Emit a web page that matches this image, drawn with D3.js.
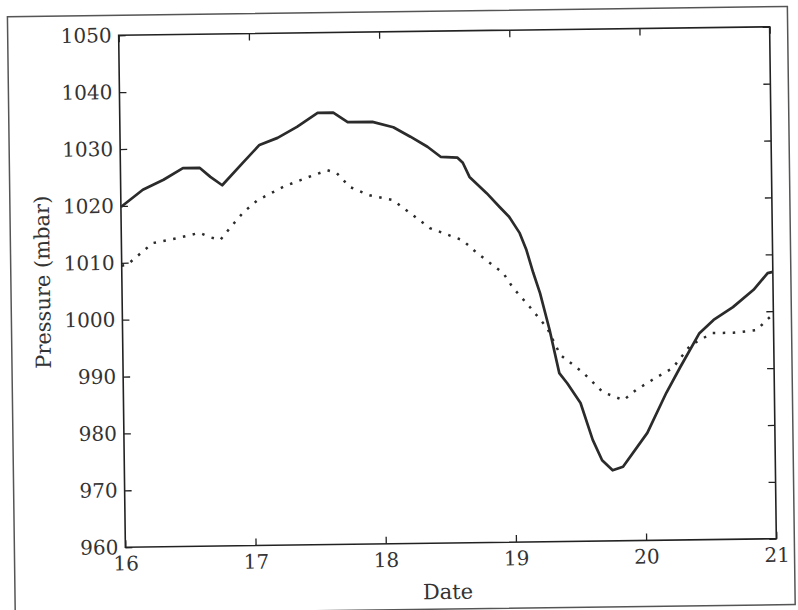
<!DOCTYPE html>
<html>
<head>
<meta charset="utf-8">
<script src="https://cdn.jsdelivr.net/npm/d3@7"></script>
<style>
  html, body { margin: 0; padding: 0; background: #fff; }
  svg { display: block; }
</style>
</head>
<body>
<svg id="chart" width="798" height="610"></svg>
<script>
// ---- data ----
const solidDate = [16.00, 16.17, 16.33, 16.48, 16.61, 16.69, 16.78, 16.94, 17.07, 17.21, 17.36, 17.52, 17.64, 17.75, 17.94, 18.10, 18.23, 18.36, 18.46, 18.59, 18.63, 18.68, 18.81, 18.91, 18.98, 19.06, 19.11, 19.16, 19.21, 19.28, 19.35, 19.41, 19.51, 19.60, 19.67, 19.75, 19.83, 20.02, 20.17, 20.28, 20.43, 20.54, 20.69, 20.85, 20.96, 21.00];
const solidPressure = [1019.8, 1022.8, 1024.5, 1026.5, 1026.5, 1024.9, 1023.4, 1027.3, 1030.4, 1031.6, 1033.5, 1035.9, 1035.9, 1034.2, 1034.2, 1033.2, 1031.5, 1029.7, 1027.9, 1027.7, 1026.8, 1024.3, 1021.4, 1018.9, 1017.2, 1014.3, 1011.3, 1007.3, 1003.7, 997.2, 989.6, 987.8, 984.3, 977.8, 974.2, 972.4, 973.0, 978.9, 985.9, 990.4, 996.3, 998.6, 1000.8, 1003.8, 1006.7, 1006.9];

const dottedDate = [16.00, 16.04, 16.24, 16.43, 16.60, 16.68, 16.76, 16.84, 16.94, 17.05, 17.25, 17.45, 17.59, 17.66, 17.76, 17.91, 18.09, 18.22, 18.37, 18.55, 18.62, 18.73, 18.93, 19.00, 19.13, 19.26, 19.36, 19.53, 19.68, 19.84, 19.94, 20.10, 20.22, 20.36, 20.53, 20.69, 20.87, 20.95, 21.00];
const dottedPressure = [1009.5, 1009.6, 1013.4, 1014.2, 1015.1, 1014.3, 1013.8, 1016.0, 1018.6, 1020.7, 1023.0, 1024.7, 1025.8, 1025.3, 1022.8, 1021.3, 1020.4, 1018.1, 1015.4, 1013.8, 1013.2, 1010.9, 1007.3, 1004.8, 1001.3, 997.6, 992.8, 989.7, 986.2, 984.7, 986.5, 988.7, 990.2, 994.2, 996.3, 996.3, 996.7, 998.5, 999.5];

const xTicks = [16, 17, 18, 19, 20, 21];
const yTicks = [960, 970, 980, 990, 1000, 1010, 1020, 1030, 1040, 1050];
const xLabel = "Date";
const yLabel = "Pressure (mbar)";

// ---- layout ----
const W = 798, H = 610;
const M = { left: 122, top: 31, width: 651, height: 512 };
const FONT = "'DejaVu Serif', 'Liberation Serif', serif";
const INK = "#333";

const svg = d3.select("#chart");
svg.append("rect").attr("width", W).attr("height", H).attr("fill", "#fff");

// the scanned page is slightly tilted
const page = svg.append("g").attr("transform", "rotate(-0.75, 447, 287)");

// outer frame of the scan
page.append("rect")
  .attr("x", 11).attr("y", 11).attr("width", 780).attr("height", 598)
  .attr("fill", "none").attr("stroke", "#555").attr("stroke-width", 1.5);

const x = d3.scaleLinear().domain([16, 21]).range([0, M.width]);
const y = d3.scaleLinear().domain([960, 1050]).range([M.height, 0]);

const g = page.append("g").attr("transform", `translate(${M.left},${M.top})`);

// axes with inward ticks (box style)
const axB = g.append("g").attr("transform", `translate(0,${M.height})`)
  .call(d3.axisBottom(x).tickValues(xTicks).tickFormat(d3.format("d")).tickSizeInner(-7).tickSizeOuter(0).tickPadding(9));
const axL = g.append("g")
  .call(d3.axisLeft(y).tickValues(yTicks).tickFormat(d3.format("d")).tickSizeInner(-7).tickSizeOuter(0).tickPadding(7));
const axT = g.append("g")
  .call(d3.axisTop(x).tickValues(xTicks).tickFormat("").tickSizeInner(-7).tickSizeOuter(0));
const axR = g.append("g").attr("transform", `translate(${M.width},0)`)
  .call(d3.axisRight(y).tickValues(yTicks).tickFormat("").tickSizeInner(-7).tickSizeOuter(0));

[axB, axL, axT, axR].forEach(a => {
  a.select(".domain").remove();
  a.selectAll(".tick line").attr("stroke", "#222").attr("stroke-width", 1.3);
  a.selectAll("text").attr("fill", INK).style("font-family", FONT).style("font-size", "20px");
});

// box
g.append("rect").attr("x", 0).attr("y", 0).attr("width", M.width).attr("height", M.height)
  .attr("fill", "none").attr("stroke", "#222").attr("stroke-width", 1.6);

// series
const solid = solidDate.map((d, i) => [d, solidPressure[i]]);
const dotted = dottedDate.map((d, i) => [d, dottedPressure[i]]);
const line = d3.line().x(d => x(d[0])).y(d => y(d[1])).curve(d3.curveLinear);

g.append("path").datum(dotted).attr("d", line)
  .attr("fill", "none").attr("stroke", "#2b2b2b").attr("stroke-width", 2.5)
  .attr("stroke-dasharray", "2.5,7.5");
g.append("path").datum(solid).attr("d", line)
  .attr("fill", "none").attr("stroke", "#2b2b2b").attr("stroke-width", 2.7)
  .attr("stroke-linejoin", "round");

// axis labels
page.append("text").attr("x", 444).attr("y", 599).attr("text-anchor", "middle")
  .style("font-family", FONT).style("font-size", "21px").attr("fill", INK).text(xLabel);
page.append("text").attr("transform", "translate(50,277) rotate(-90)").attr("text-anchor", "middle")
  .style("font-family", FONT).style("font-size", "21px").attr("fill", INK).text(yLabel);
</script>
</body>
</html>
